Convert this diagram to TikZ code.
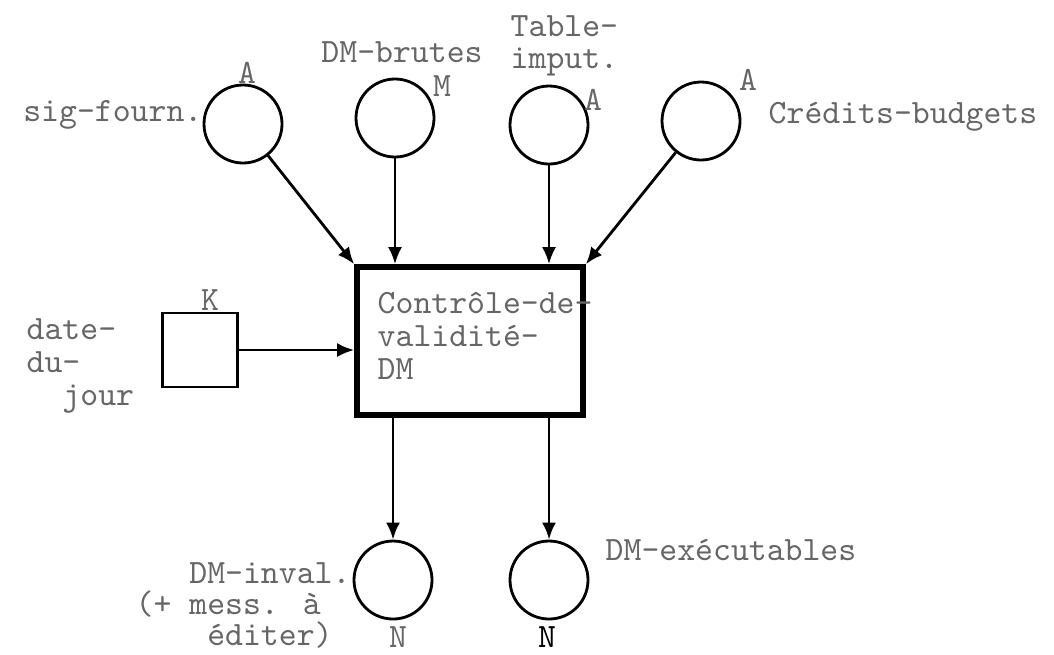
\documentclass[tikz,border=0pt]{standalone}
\usepackage{fontspec}
\usetikzlibrary{arrows.meta}

\begin{document}
\begin{tikzpicture}[x=0.1mm, y=-0.1mm,
		store/.style={draw, circle, line width=0.8pt, minimum size=7.8mm, inner sep=0pt},
		proc/.style={draw, rectangle, line width=1.6pt, minimum width=22.6mm, minimum height=14.8mm, inner sep=0pt},
		const/.style={draw, rectangle, line width=0.6pt, minimum width=7.5mm, minimum height=7.4mm, inner sep=0pt},
		txt/.style={font=\ttfamily\fontsize{9.7}{9.4}\selectfont, text=black!60, inner sep=0pt, align=left},
		tight/.style={txt, font=\ttfamily\fontsize{9.7}{8.9}\selectfont},
		flow/.style={line width=0.8pt, -{Latex[length=1.7mm, width=1.4mm]}}]
		\useasboundingbox (0,0) rectangle (1054,654);

		% Define the stores
		\node[store] (sig) at (243, 124) {};
		\node[store] (brutes) at (395, 118) {};
		\node[store] (tabimp) at (549, 125) {};
		\node[store] (credits) at (701, 121) {};
		\node[store] (inval) at (393, 580) {};
		\node[store] (exec) at (549, 580) {};

		% Define the process and the constant
		\node[proc] (ctrl) at (470, 341) {};
		\node[const] (date) at (200, 350) {};

		% Names of the stores
		\node[txt, anchor=east] (signame) at (203, 115) {sig-fourn.};
		\node[txt] (brutesname) at (402, 52) {DM-brutes};
		\node[tight, anchor=west] (tabimpname) at (510, 46) {Table-\\imput.};
		\node[txt, anchor=west] (creditsname) at (768, 117) {Crédits-budgets};
		\node[tight, anchor=west] (invalname) at (135, 604) {\phantom{(+ }DM-inval.\\(+ mess. à\\\phantom{(+ m}éditer)};
		\node[txt, anchor=west] (execname) at (605, 550) {DM-exécutables};
		\node[txt, anchor=west] (ctrlname) at (377, 336) {Contrôle-de-\\validité-\\DM};
		\node[txt, anchor=west] (datename) at (26, 366) {date-\\du-\\\phantom{dd}jour};

		% Access letters
		\node[txt] (sigA) at (247, 73) {A};
		\node[txt] (brutesM) at (442, 86) {M};
		\node[txt] (tabimpA) at (593, 100) {A};
		\node[txt] (creditsA) at (748, 80) {A};
		\node[txt] (dateK) at (210, 300) {K};
		\node[txt] (invalN) at (398, 637) {N};
		\node[txt, text=black] (execN) at (547, 637) {N};

		% Define the flows
		\draw[flow] (sig) -- (ctrl.north west);
		\draw[flow] (brutes) -- (brutes |- ctrl.north);
		\draw[flow] (tabimp) -- (tabimp |- ctrl.north);
		\draw[flow] (credits) -- (ctrl.north east);
		\draw[flow] (date) -- (date -| ctrl.west);
		\draw[flow] (ctrl.south -| inval) -- (inval);
		\draw[flow] (ctrl.south -| exec) -- (exec);
	\end{tikzpicture}
\end{document}
